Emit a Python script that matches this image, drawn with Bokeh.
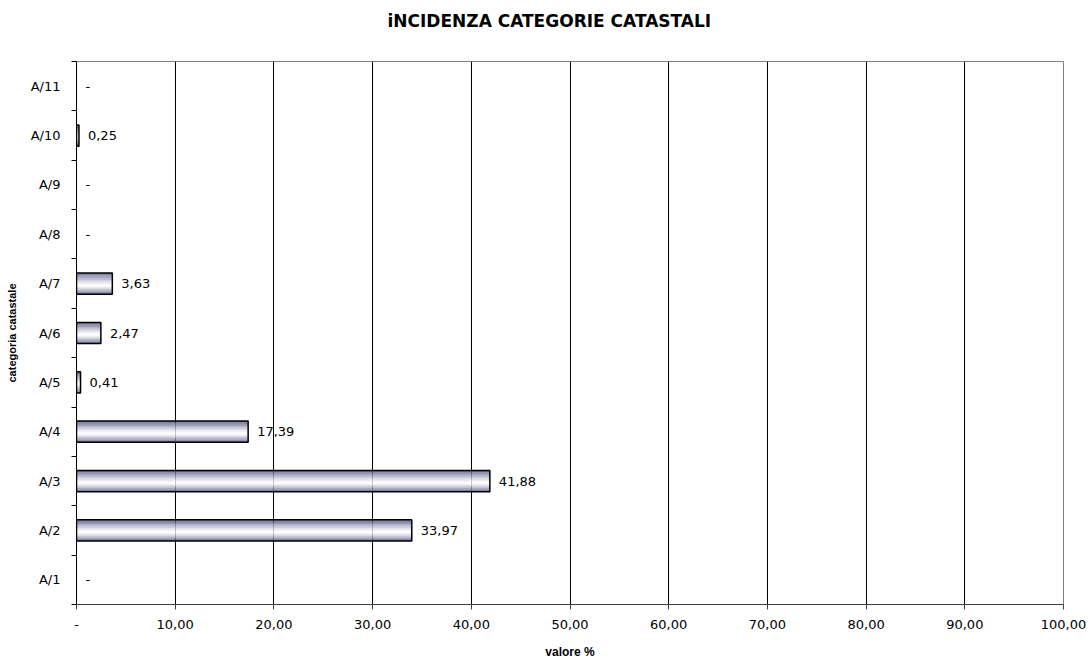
from bokeh.plotting import figure
from bokeh.models import FixedTicker, ColumnDataSource, Range1d, Title
from bokeh.embed import file_html
from bokeh.resources import INLINE
from bokeh.core.properties import value

categories = ["A/1", "A/2", "A/3", "A/4", "A/5", "A/6", "A/7", "A/8", "A/9", "A/10", "A/11"]
values = [0, 33.97, 41.88, 17.39, 0.41, 2.47, 3.63, 0, 0, 0.25, 0]
x_ticks = [0, 10, 20, 30, 40, 50, 60, 70, 80, 90, 100]
x_tick_labels = ["-", "10,00", "20,00", "30,00", "40,00", "50,00", "60,00", "70,00", "80,00", "90,00", "100,00"]

FONT = "DejaVu Sans"
LFONT = "Liberation Sans"

W, H = 1091, 661
FL, FR, FT, FB = 76, 1063, 61, 604  # frame edges in canvas pixels
p = figure(width=W, height=H, output_backend="svg", toolbar_location=None,
           x_range=Range1d(0, 100), y_range=Range1d(0, len(categories)),
           min_border_left=FL, min_border_right=W - FR, min_border_top=FT, min_border_bottom=H - FB)

# two-line title (second line empty) so the title sits near the top of the page
p.title = Title(text="iNCIDENZA CATEGORIE CATASTALI\n", align="left", offset=311,
                vertical_align="top",
                text_font=FONT, text_font_size="17px", text_font_style="bold",
                text_color="black", standoff=18)

# gradient bars built from strips
bar_h = 0.43
N = 30
dark = (70, 70, 120)
ys, rights, cols = [], [], []
centers = [i + 0.5 for i in range(len(categories))]
for c, v in zip(centers, values):
    if v <= 0:
        continue
    for k in range(N):
        pos = (k + 0.5) / N  # 0 bottom .. 1 top
        mid = 0.42
        s = abs(pos - mid) / (mid if pos < mid else 1 - mid)
        t = s ** 1.3
        col = tuple(int(round(255 * (1 - t) + d * t)) for d in dark)
        ys.append(c - bar_h / 2 + pos * bar_h)
        rights.append(v)
        cols.append("#%02x%02x%02x" % col)
p.hbar(y=ys, left=0, right=rights, height=bar_h / N * 1.05, fill_color=cols, line_color=None)

bars = ColumnDataSource(dict(y=[c for c, v in zip(centers, values) if v > 0],
                             right=[v for v in values if v > 0]))
p.hbar(y="y", left=0, right="right", height=bar_h, source=bars,
       fill_color=None, line_color="black", line_width=1.5)

labels = ColumnDataSource(dict(x=values, y=centers,
                               t=[("%.2f" % v).replace(".", ",") if v > 0 else "-" for v in values]))
p.text(x="x", y="y", text="t", source=labels, x_offset=9, text_baseline="middle",
       text_font=value(FONT), text_font_size="13px", text_color="black")

# axes
p.xaxis.ticker = FixedTicker(ticks=x_ticks)
p.xaxis.major_label_overrides = {t: l for t, l in zip(x_ticks, x_tick_labels)}
p.xaxis.major_tick_out = 5
p.xaxis.major_tick_in = 0
p.xaxis.minor_tick_out = 0
p.xaxis.minor_tick_in = 0
p.xaxis.axis_line_color = "#404040"
p.xaxis.major_tick_line_color = "#404040"
p.xaxis.major_label_standoff = 10
p.xaxis.axis_label = "valore %"
p.xaxis.axis_label_standoff = 13
p.xaxis.axis_label_text_font_size = "12px"

p.yaxis.ticker = FixedTicker(ticks=centers, minor_ticks=list(range(len(categories) + 1)))
p.yaxis.major_label_overrides = {c: n for c, n in zip(centers, categories)}
p.yaxis.major_tick_out = 0
p.yaxis.major_tick_in = 0
p.yaxis.minor_tick_out = 5
p.yaxis.minor_tick_in = 0
p.yaxis.axis_line_color = "black"
p.yaxis.minor_tick_line_color = "black"
p.yaxis.major_label_standoff = 11
p.yaxis.axis_label = "categoria catastale"
p.yaxis.axis_label_standoff = 10
p.yaxis.axis_label_text_font_size = "11px"

for ax in (p.xaxis, p.yaxis):
    ax.major_label_text_font = FONT
    ax.major_label_text_font_size = "13px"
    ax.major_label_text_color = "black"
    ax.axis_label_text_font = LFONT
    ax.axis_label_text_font_style = "bold"
    ax.axis_label_text_color = "black"

p.xgrid.ticker = FixedTicker(ticks=x_ticks[1:-1])
p.xgrid.grid_line_color = "black"
p.xgrid.grid_line_width = 1
p.ygrid.grid_line_color = None
p.outline_line_color = "#808080"
p.outline_line_width = 1

open("out.html", "w").write(file_html(p, INLINE))
